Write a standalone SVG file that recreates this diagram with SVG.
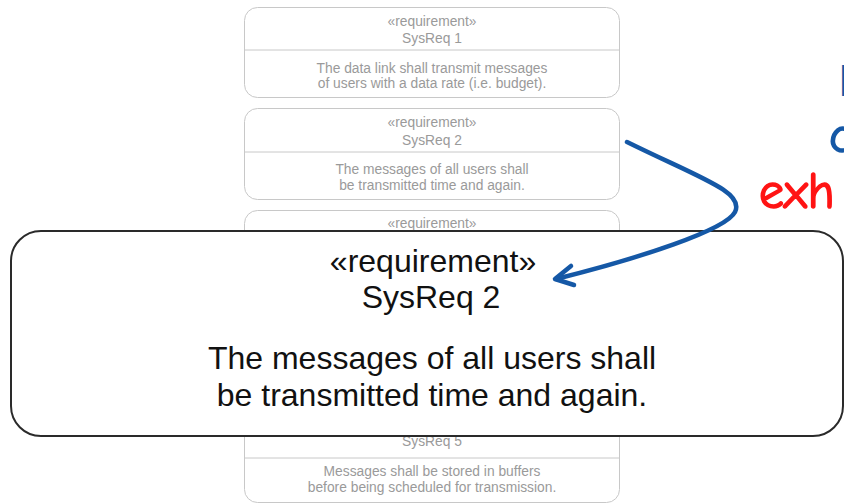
<svg xmlns="http://www.w3.org/2000/svg" width="844" height="504" viewBox="0 0 844 504">
  <style>
    .req { fill: #ffffff; stroke: #c8c8c8; stroke-width: 1; }
    .div { stroke: #c8c8c8; stroke-width: 1; }
    .st { font-family: "Liberation Sans", Arial, sans-serif; font-size: 13.8px; fill: #9a9a9a; text-anchor: middle; }
    .big { fill: #ffffff; stroke: #2a2a2a; stroke-width: 2; }
    .bt { font-family: "Liberation Sans", Arial, sans-serif; font-size: 32px; fill: #111111; text-anchor: middle; }
    .hand { font-family: "Comic Sans MS", "Comic Neue", cursive; font-size: 50px; stroke-width: 1.6; }
    .flow { fill: none; stroke: #1558a6; stroke-width: 4.5; stroke-linecap: round; stroke-linejoin: round; }
  </style>
  <rect width="844" height="504" fill="#ffffff"/>

  <!-- requirement stack -->
  <g id="sysreq1">
    <rect class="req" x="244.5" y="7.5" width="375" height="90" rx="13"/>
    <line class="div" x1="244.5" y1="50" x2="619.5" y2="50"/>
    <text class="st" x="432" y="26">«requirement»</text>
    <text class="st" x="432" y="43">SysReq 1</text>
    <text class="st" x="432" y="73">The data link shall transmit messages</text>
    <text class="st" x="432" y="88">of users with a data rate (i.e. budget).</text>
  </g>
  <g id="sysreq2">
    <rect class="req" x="244.5" y="108.5" width="375" height="91" rx="13"/>
    <line class="div" x1="244.5" y1="152" x2="619.5" y2="152"/>
    <text class="st" x="432" y="127">«requirement»</text>
    <text class="st" x="432" y="145">SysReq 2</text>
    <text class="st" x="432" y="174">The messages of all users shall</text>
    <text class="st" x="432" y="190">be transmitted time and again.</text>
  </g>
  <g id="sysreq3">
    <rect class="req" x="244.5" y="210.5" width="375" height="91" rx="13"/>
    <text class="st" x="432" y="228">«requirement»</text>
  </g>
  <g id="sysreq4">
    <rect class="req" x="244.5" y="311.5" width="375" height="91" rx="13"/>
  </g>
  <g id="sysreq5">
    <rect class="req" x="244.5" y="412.5" width="375" height="90" rx="13"/>
    <line class="div" x1="244.5" y1="458" x2="619.5" y2="458"/>
    <text class="st" x="432" y="446">SysReq 5</text>
    <text class="st" x="432" y="476">Messages shall be stored in buffers</text>
    <text class="st" x="432" y="492">before being scheduled for transmission.</text>
  </g>

  <!-- enlarged view of SysReq 2 -->
  <g id="sysreq2-zoom">
    <rect class="big" x="11" y="231" width="832" height="205" rx="30"/>
    <text class="bt" x="433" y="272">«requirement»</text>
    <text class="bt" x="431" y="308">SysReq 2</text>
    <text class="bt" x="432" y="369">The messages of all users shall</text>
    <text class="bt" x="432" y="406">be transmitted time and again.</text>
  </g>

  <!-- handwritten notes -->
  <g id="notes">
    <text x="838" y="96" font-family="Liberation Sans, sans-serif" font-size="44" fill="#1558a6">I</text>
    <text class="hand" x="829" y="152" fill="#1558a6" stroke="#1558a6">c</text>
    <text class="hand" x="759" y="208" fill="#ff1414" stroke="#ff1414">exh</text>
  </g>

  <g id="connectors">
    <path class="flow" d="M627,142 C700,178 745,192 735,212 C726,230 640,258 556,279"/>
    <path class="flow" d="M571,266 L555,279 L574,285"/>
  </g>
</svg>
